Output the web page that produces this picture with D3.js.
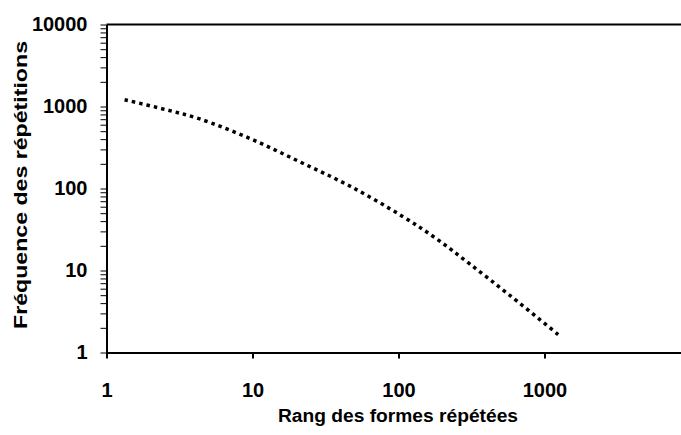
<!DOCTYPE html>
<html>
<head>
<meta charset="utf-8">
<script src="https://cdn.jsdelivr.net/npm/d3@7"></script>
<style>
  body { margin: 0; background: #fff; }
  text { font-family: "Liberation Sans", Arial, sans-serif; font-weight: bold; fill: #000; }
</style>
</head>
<body>
<div id="chart"></div>
<script>
// data (rank, frequency)
var rangs = [1.33, 2.4, 4.3, 9.7, 21, 46, 106, 182, 306, 585, 1270];
var frequences = [1210, 940, 710, 404, 212, 108, 46, 24.4, 12.1, 4.9, 1.6];
var xTicks = [1, 10, 100, 1000];
var yTicks = [1, 10, 100, 1000, 10000];

// set the dimensions and margins of the graph
var margin = {top: 24.5, left: 106.5},
    width = 584,
    height = 328;

var svg = d3.select("#chart")
  .append("svg")
    .attr("width", 681)
    .attr("height", 435);

var chart = svg.append("g")
    .attr("transform", "translate(" + margin.left + "," + margin.top + ")");

var x = d3.scaleLog().domain([1, 10000]).range([0, width]);
var y = d3.scaleLog().domain([1, 10000]).range([height, 0]);

// minor ticks on the y axis
var yMinor = [];
yTicks.slice(0, -1).forEach(function(t) {
  for (var k = 1; k < 10; k++) yMinor.push(t * k);
});
yMinor.push(10000);

var yAxis = chart.append("g")
  .call(d3.axisLeft(y)
    .tickValues(yMinor)
    .tickSize(6)
    .tickSizeOuter(0)
    .tickPadding(13)
    .tickFormat(function(d) { return yTicks.indexOf(d) >= 0 ? d : ""; }));
yAxis.select(".domain").attr("stroke-width", 2);
yAxis.selectAll("text").style("font-size", "20px");

var xAxis = chart.append("g")
    .attr("transform", "translate(0," + height + ")")
  .call(d3.axisBottom(x)
    .tickValues(xTicks)
    .tickSize(6)
    .tickSizeOuter(0)
    .tickPadding(24)
    .tickFormat(function(d) { return d; }));
xAxis.select(".domain").attr("stroke-width", 2);
xAxis.selectAll(".tick line").attr("stroke-width", 2);
xAxis.selectAll("text").style("font-size", "20px");

// top border
chart.append("line")
    .attr("x1", 0).attr("x2", width)
    .attr("y1", 0).attr("y2", 0)
    .attr("stroke", "#000")
    .attr("stroke-width", 2);

var points = rangs.map(function(r, i) { return [r, frequences[i]]; });

chart.append("path")
    .datum(points)
    .attr("fill", "none")
    .attr("stroke", "#000")
    .attr("stroke-width", 3.5)
    .attr("stroke-dasharray", "3.5,4")
    .attr("d", d3.line()
      .x(function(d) { return x(d[0]); })
      .y(function(d) { return y(d[1]); })
      .curve(d3.curveCatmullRom));

// axis titles
svg.append("text")
    .attr("x", 398)
    .attr("y", 422)
    .attr("text-anchor", "middle")
    .attr("textLength", 240)
    .attr("lengthAdjust", "spacingAndGlyphs")
    .style("font-size", "18px")
    .text("Rang des formes répétées");

svg.append("text")
    .attr("transform", "translate(27,185) rotate(-90)")
    .attr("text-anchor", "middle")
    .attr("textLength", 288)
    .attr("lengthAdjust", "spacingAndGlyphs")
    .style("font-size", "18px")
    .text("Fréquence des répétitions");
</script>
</body>
</html>
